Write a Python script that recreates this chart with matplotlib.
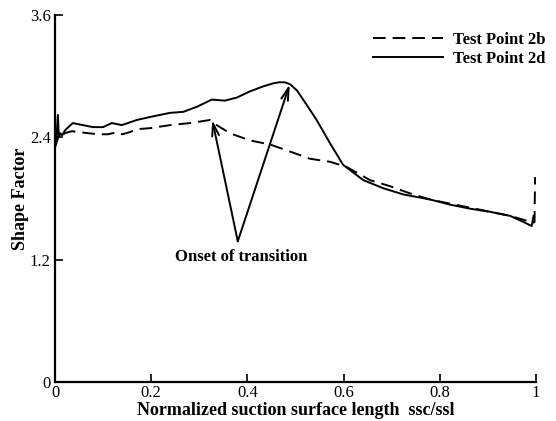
import matplotlib
matplotlib.use("Agg")
import matplotlib.pyplot as plt

# Shape factor along the suction surface for two test points
x_2b = [0.0, 0.004, 0.008, 0.012, 0.02, 0.035, 0.052, 0.07, 0.09, 0.11, 0.129, 0.14,
        0.155, 0.17, 0.198, 0.239, 0.281, 0.322, 0.336, 0.364, 0.405, 0.447,
        0.489, 0.53, 0.572, 0.606, 0.655, 0.697, 0.738, 0.78, 0.821, 0.863, 0.904,
        0.946, 0.975, 0.993, 0.997, 0.998]
h_2b = [2.30, 2.36, 2.42, 2.40, 2.44, 2.46, 2.45, 2.44, 2.43, 2.43, 2.45, 2.43,
        2.45, 2.48, 2.49, 2.52, 2.54, 2.57, 2.52, 2.44, 2.37, 2.33,
        2.26, 2.19, 2.16, 2.11, 1.98, 1.92, 1.85, 1.79, 1.75, 1.71, 1.67,
        1.63, 1.59, 1.56, 1.57, 2.01]

x_2d = [0.0, 0.003, 0.006, 0.008, 0.011, 0.015, 0.021, 0.037, 0.058, 0.079, 0.10,
        0.118, 0.139, 0.17, 0.198, 0.239, 0.267, 0.295, 0.326, 0.353, 0.378,
        0.405, 0.433, 0.454, 0.466, 0.478, 0.489, 0.503, 0.516, 0.544, 0.572,
        0.599, 0.641, 0.683, 0.724, 0.78, 0.821, 0.863, 0.904, 0.946, 0.974,
        0.991, 0.995]
h_2d = [2.32, 2.40, 2.62, 2.40, 2.44, 2.42, 2.47, 2.54, 2.52, 2.50, 2.50,
        2.54, 2.52, 2.57, 2.60, 2.64, 2.65, 2.70, 2.77, 2.76, 2.79,
        2.85, 2.90, 2.93, 2.94, 2.94, 2.92, 2.86, 2.77, 2.57, 2.34,
        2.13, 1.98, 1.90, 1.84, 1.79, 1.74, 1.70, 1.67, 1.63, 1.57,
        1.53, 1.63]

# Transition onset: label position and the two points it marks
onset_label = (0.387, 1.23)
onset_tail = (0.38, 1.38)
onset_2b = (0.327, 2.57)
onset_2d = (0.488, 2.92)

x_ticks = [0, 0.2, 0.4, 0.6, 0.8, 1]
x_tick_labels = ["0", "0.2", "0.4", "0.6", "0.8", "1"]
y_ticks = [0, 1.2, 2.4, 3.6]
y_tick_labels = ["0", "1.2", "2.4", "3.6"]

serif = ["Liberation Serif", "DejaVu Serif"]
plt.rcParams["font.family"] = serif

fig = plt.figure(figsize=(5.56, 4.21), dpi=100)
ax = fig.add_axes([55 / 556, 1 - 382 / 421, 481 / 556, 367 / 421])

ln_b, = ax.plot(x_2b, h_2b, color="black", lw=1.4, dashes=(6.5, 3.6),
                label="Test Point 2b")
ln_d, = ax.plot(x_2d, h_2d, color="black", lw=1.4, label="Test Point 2d")

ax.set_xlim(0, 1)
ax.set_ylim(0, 3.6)
ax.set_xticks(x_ticks)
ax.set_xticklabels(x_tick_labels)
ax.set_yticks(y_ticks)
ax.set_yticklabels(y_tick_labels)
ax.tick_params(direction="in", length=6, width=1.2, labelsize=12, pad=3)
ax.tick_params(axis="x", pad=2)

for side in ("top", "right"):
    ax.spines[side].set_visible(False)
for side in ("left", "bottom"):
    ax.spines[side].set_linewidth(1.6)

ax.set_xlabel("Normalized suction surface length  ssc/ssl", fontsize=13,
              fontweight="bold", labelpad=1)
ax.set_ylabel("Shape Factor", fontsize=13, fontweight="bold", labelpad=1)

ax.text(*onset_label, "Onset of transition", fontsize=12, fontweight="bold",
        ha="center", va="center")
for tip in (onset_2b, onset_2d):
    ax.annotate("", xy=tip, xytext=onset_tail,
                arrowprops=dict(arrowstyle="->,head_length=0.9,head_width=0.25",
                                lw=1.4, color="black", shrinkA=0, shrinkB=0))

leg = ax.legend(handles=[ln_b, ln_d], loc="upper right",
                bbox_to_anchor=(1.05, 0.995), frameon=False,
                prop={"family": serif, "weight": "bold", "size": 12},
                handlelength=4.2, handletextpad=0.6, labelspacing=0.2)

fig.savefig("out.png", dpi=100)
